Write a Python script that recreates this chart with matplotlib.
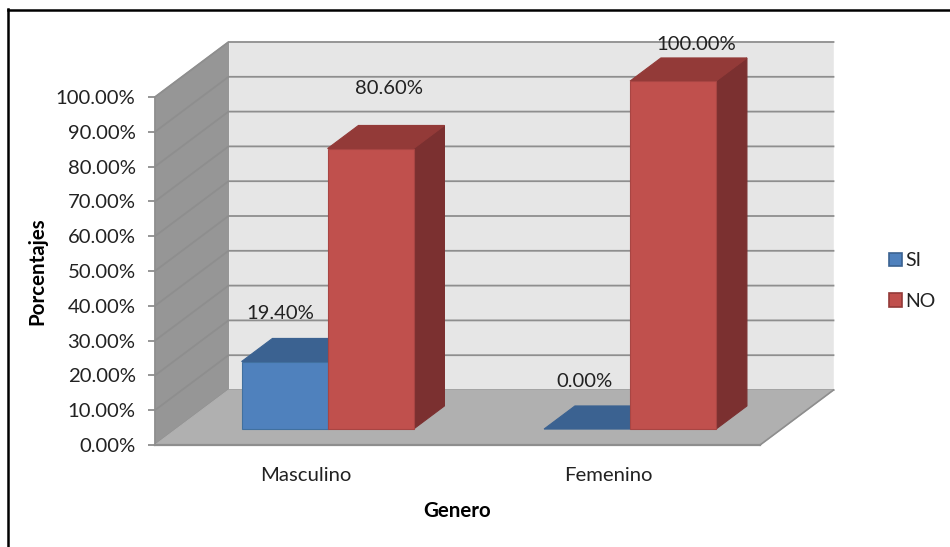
import matplotlib
matplotlib.use("Agg")
import matplotlib.pyplot as plt
from matplotlib.lines import Line2D
from matplotlib.patches import Patch

categories = ["Masculino", "Femenino"]
series_names = ["SI", "NO"]
si_values = [19.4, 0.0]
no_values = [80.6, 100.0]
y_ticks = list(range(0, 101, 10))

W, H = 950, 547
plt.rcParams['font.family'] = ['Lato', 'DejaVu Sans']
fig = plt.figure(figsize=(W / 100, H / 100), dpi=100, facecolor='white')
L, R, T, B = 155, 760, 97, 445
ax = fig.add_axes([L / W, 1 - B / H, (R - L) / W, (B - T) / H])
ax.set_xlim(0, 2)
ax.set_ylim(0, 100)
ax.patch.set_visible(False)

px_x = 2 / (R - L)
px_y = 100 / (B - T)
DX, DY = 73.5 * px_x, 55 * px_y


def pr(x, y, d):
    return x + DX * d, y + DY * d


def face(pts, color, edge=None, z=1, lw=0.8):
    xs = [p[0] for p in pts]
    ys = [p[1] for p in pts]
    ax.fill(xs, ys, facecolor=color, edgecolor=edge or color, linewidth=lw,
            clip_on=False, zorder=z)


WALL_SIDE, WALL_BACK, FLOOR, GRID = '#969696', '#e6e6e6', '#b0b0b0', '#8e8e8e'
# walls and floor
face([pr(0, 0, 0), pr(0, 100, 0), pr(0, 100, 1), pr(0, 0, 1)], WALL_SIDE, z=1)
face([pr(0, 0, 1), pr(0, 100, 1), pr(2, 100, 1), pr(2, 0, 1)], WALL_BACK, z=1, lw=0.4)
face([pr(0, 0, 0), pr(2, 0, 0), pr(2, 0, 1), pr(0, 0, 1)], FLOOR, z=1.5)
for t in y_ticks:
    a, b, c = pr(0, t, 0), pr(0, t, 1), pr(2, t, 1)
    ax.plot([a[0], b[0], c[0]], [a[1], b[1], c[1]], color=GRID, lw=1.3,
            clip_on=False, zorder=1.2, solid_joinstyle='miter')
ax.plot([0, 2], [0, 0], color=GRID, lw=1.6, clip_on=False, zorder=1.7)
a, b = pr(2, 0, 0), pr(2, 0, 1)
ax.plot([a[0], b[0]], [a[1], b[1]], color=GRID, lw=1.2, clip_on=False, zorder=1.7)

# bars
D0, D1 = 0.29, 0.71
BW = 86 * px_x
COLORS = {
    "SI": dict(front='#4f81bd', top='#3b6291', side='#2f4f78', edge='#41709f'),
    "NO": dict(front='#c0504d', top='#933a38', side='#7b3030', edge='#a84543'),
}


def bar3d(xl, v, c, z):
    xr = xl + BW
    face([pr(xr, 0, D0), pr(xr, v, D0), pr(xr, v, D1), pr(xr, 0, D1)], c['side'], z=z)
    face([pr(xl, v, D0), pr(xr, v, D0), pr(xr, v, D1), pr(xl, v, D1)], c['top'], z=z)
    if v > 0:
        face([pr(xl, 0, D0), pr(xr, 0, D0), pr(xr, v, D0), pr(xl, v, D0)],
             c['front'], edge=c['edge'], z=z + 0.1)


label_offsets = {
    "SI": [(-4, 48), (-3, 48)],
    "NO": [(18, 60), (23, 37)],
}
for i, cat in enumerate(categories):
    cx = i + 0.5
    for j, (name, vals) in enumerate(zip(series_names, (si_values, no_values))):
        xl = cx - BW + j * BW
        v = vals[i]
        bar3d(xl, v, COLORS[name], 2 + i + j * 0.5)
        lx, ly = pr(xl + BW / 2, v, D0)
        off = label_offsets[name][i]
        ax.annotate(f"{v:.2f}%", (lx, ly), xytext=(off[0] * 0.72, off[1] * 0.72),
                    textcoords='offset points', ha='center', va='center',
                    fontsize=14.6, color='#222222', annotation_clip=False, zorder=10)

# axes
for s in ('top', 'right', 'bottom'):
    ax.spines[s].set_visible(False)
ax.spines['left'].set_color(GRID)
ax.spines['left'].set_linewidth(1.2)
ax.spines['left'].set_zorder(3)
ax.set_yticks(y_ticks)
ax.set_yticklabels([f"{t:.2f}%" for t in y_ticks], fontsize=14.6, color='#222222')
ax.tick_params(axis='y', length=5, width=1.3, color=GRID, pad=9)
ax.set_xticks([i + 0.5 for i in range(len(categories))])
ax.set_xticklabels(categories, fontsize=14.6, color='#222222')
ax.tick_params(axis='x', length=0, pad=16)
ax.set_xlabel("Genero", fontsize=14.8, fontweight='bold', labelpad=12)
ax.set_ylabel("Porcentajes", fontsize=14.8, fontweight='bold', labelpad=6)

# legend
handles = [Patch(facecolor=COLORS[n]['front'], edgecolor=COLORS[n]['top'], linewidth=1.2)
           for n in series_names]
fig.legend(handles, series_names, loc='center left',
           bbox_to_anchor=(871 / W, 1 - 281 / H), frameon=False, fontsize=14,
           handlelength=0.7, handleheight=0.7, handletextpad=0.18, labelspacing=1.22,
           labelcolor='#222222')

# outer frame (top and left only)
fig.add_artist(Line2D([8 / W, 8 / W], [0, 1 - 9 / H], color='black', lw=1.8,
                      transform=fig.transFigure))
fig.add_artist(Line2D([7.5 / W, 1], [1 - 9.5 / H, 1 - 9.5 / H], color='black', lw=1.8,
                      transform=fig.transFigure))

fig.savefig("out.png", dpi=100)
